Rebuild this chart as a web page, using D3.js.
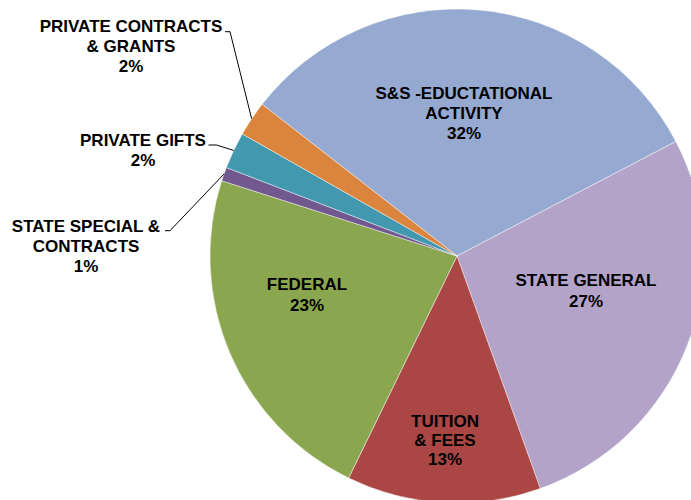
<!DOCTYPE html>
<html>
<head>
<meta charset="utf-8">
<script src="https://cdn.jsdelivr.net/npm/d3@7"></script>
<style>
  html, body { margin: 0; padding: 0; background: #fff; }
  svg { display: block; }
  text { font-family: "Liberation Sans", Arial, sans-serif; font-weight: bold; font-size: 17px; fill: #000; }
</style>
</head>
<body>
<div id="chart"></div>
<script>
// ---- data ----
const categories = [
  "S&S -EDUCTATIONAL ACTIVITY",
  "STATE GENERAL",
  "TUITION & FEES",
  "FEDERAL",
  "STATE SPECIAL & CONTRACTS",
  "PRIVATE GIFTS",
  "PRIVATE CONTRACTS & GRANTS"
];
const values = [31.8, 27.2, 12.7, 22.7, 0.9, 2.4, 2.3];
const percentLabels = ["32%", "27%", "13%", "23%", "1%", "2%", "2%"];
const labelLines = [
  ["S&S -EDUCTATIONAL", "ACTIVITY"],
  ["STATE GENERAL"],
  ["TUITION", "& FEES"],
  ["FEDERAL"],
  ["STATE SPECIAL &", "CONTRACTS"],
  ["PRIVATE GIFTS"],
  ["PRIVATE CONTRACTS", "& GRANTS"]
];
const colors = ["#95A9D1", "#B3A3C8", "#AA4644", "#8AA64F", "#71588F", "#4298AF", "#DB843D"];

// ---- layout ----
const W = 691, H = 500;
const cx = 457, cy = 256, R = 247;
const startDeg = -52.1;
// label positions (first-line baseline, centre x) per slice; outside labels carry a leader elbow
const labelLayout = [
  { x: 464, y: 99, lh: 20 },
  { x: 586, y: 286, lh: 20.5 },
  { x: 445, y: 427.3, lh: 19 },
  { x: 307, y: 290, lh: 20.5 },
  { x: 86, y: 231.7, lh: 20, leader: [[165, 230.7], [170, 230.7]] },
  { x: 143, y: 145.7, lh: 20, leader: [[208.5, 145], [216.5, 145]] },
  { x: 131, y: 32, lh: 20, leader: [[225, 31.7], [230, 31.7]] }
];

const svg = d3.select("#chart").append("svg")
  .attr("width", W).attr("height", H);

const g = svg.append("g").attr("transform", `translate(${cx},${cy})`);

const rad = d => d * Math.PI / 180;
const pie = d3.pie().sort(null).value(d => d)
  .startAngle(rad(startDeg)).endAngle(rad(startDeg + 360));
const arcs = pie(values);
const arc = d3.arc().innerRadius(0).outerRadius(R);
const edgeArc = d3.arc().innerRadius(R).outerRadius(R);

g.selectAll("path.slice").data(arcs).enter().append("path")
  .attr("class", "slice")
  .attr("d", arc)
  .attr("fill", (d, i) => colors[i])
  .attr("stroke", "#ffffff")
  .attr("stroke-opacity", 0.55)
  .attr("stroke-width", 0.8);

// leader lines
arcs.forEach((d, i) => {
  const L = labelLayout[i];
  if (!L.leader) return;
  const [ex, ey] = edgeArc.centroid(d);
  const pts = L.leader.concat([[ex + cx, ey + cy]]);
  svg.append("path")
    .attr("d", d3.line()(pts))
    .attr("fill", "none")
    .attr("stroke", "#000")
    .attr("stroke-width", 1);
});

// labels
arcs.forEach((d, i) => {
  const L = labelLayout[i];
  const lines = labelLines[i].concat([percentLabels[i]]);
  const t = svg.append("text").attr("text-anchor", "middle");
  lines.forEach((s, k) => {
    t.append("tspan").attr("x", L.x).attr("y", L.y + k * L.lh).text(s);
  });
});
</script>
</body>
</html>
